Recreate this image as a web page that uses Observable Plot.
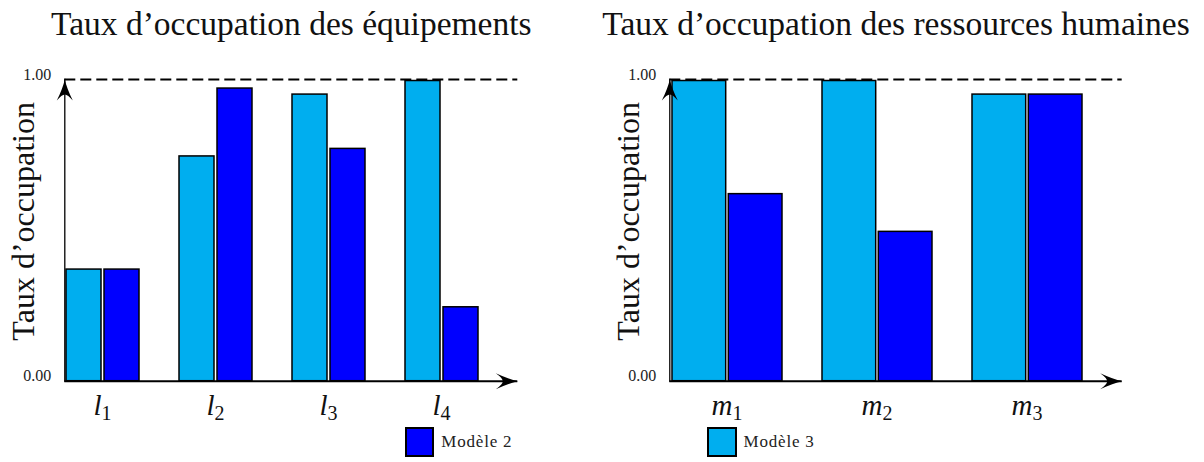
<!DOCTYPE html>
<html><head><meta charset="utf-8">
<script src="https://cdn.jsdelivr.net/npm/d3@7"></script>
<script src="https://cdn.jsdelivr.net/npm/@observablehq/plot@0.6"></script>
<style>
body{margin:0;background:#fff;}
#root{position:relative;width:1204px;height:462px;overflow:hidden;font-family:"Liberation Serif",serif;background:#fff;}
.chart{position:absolute;top:0;}
.legend{position:absolute;display:flex;align-items:center;font-size:17px;letter-spacing:0.8px;color:#222;}
.sw{box-sizing:border-box;width:29.6px;height:29.6px;border:2px solid #000;margin-right:7px;}
</style></head><body><div id="root"></div>
<script>
// ---- data ----
const seriesNames = ["Modèle 3", "Modèle 2"];
const seriesColors = ["#00AEEF", "#0000FF"];
const yTicks = [0, 1];
const yLabel = "Taux d’occupation";

const equipTitle = "Taux d’occupation des équipements";
const equipCategories = ["l1", "l2", "l3", "l4"];
const equipModele3 = [0.37, 0.745, 0.95, 0.995];
const equipModele2 = [0.37, 0.97, 0.77, 0.245];

const rhTitle = "Taux d’occupation des ressources humaines";
const rhCategories = ["m1", "m2", "m3"];
const rhModele3 = [0.995, 0.995, 0.95];
const rhModele2 = [0.62, 0.495, 0.95];

// ---- arrowhead symbols (LaTeX style) ----
const arrowRight = {draw(c) {
  c.moveTo(0, 0);
  c.quadraticCurveTo(-9, -2, -22, -8);
  c.quadraticCurveTo(-15, -3, -15, 0);
  c.quadraticCurveTo(-15, 3, -22, 8);
  c.quadraticCurveTo(-9, 2, 0, 0);
  c.closePath();
}};
const arrowUp = {draw(c) {
  c.moveTo(0, 0);
  c.quadraticCurveTo(-2, 9, -8, 21);
  c.quadraticCurveTo(-3, 15, 0, 15);
  c.quadraticCurveTo(3, 15, 8, 21);
  c.quadraticCurveTo(2, 9, 0, 0);
  c.closePath();
}};

const fmt = d3.format(".2f");

function chart(o) {
  const rows = o.categories.map((c, i) => ({cat: c, m3: o.m3[i], m2: o.m2[i]}));
  const svg = Plot.plot({
    width: o.width, height: 462,
    marginLeft: o.marginLeft, marginRight: o.marginRight, marginTop: 79, marginBottom: 81.3,
    style: {fontFamily: "Liberation Serif", background: "white", overflow: "visible", color: "black"},
    x: {domain: o.categories, range: o.xRange, paddingInner: o.paddingInner, paddingOuter: 0, axis: null},
    y: {domain: [0, 1], range: [380.7, 79], axis: null},
    marks: [
      Plot.barY(rows, {x: "cat", y: "m3", fill: seriesColors[0], stroke: "black", strokeWidth: 1.5, insetRight: o.inset}),
      Plot.barY(rows, {x: "cat", y: "m2", fill: seriesColors[1], stroke: "black", strokeWidth: 1.5, insetLeft: o.inset}),
      Plot.ruleY([1], {strokeDasharray: "11,5", strokeWidth: 2}),
      Plot.frame({anchor: "left", stroke: "black", strokeWidth: 1.3}),
      Plot.ruleY([0], {strokeWidth: 2}),
      Plot.dot([1], {y: d => d, frameAnchor: "left", symbol: arrowUp, fill: "black", stroke: "none"}),
      Plot.dot([0], {y: d => d, frameAnchor: "right", symbol: arrowRight, fill: "black", stroke: "none"}),
      Plot.text(yTicks, {y: d => d, text: d => fmt(d), frameAnchor: "left", textAnchor: "end", lineAnchor: "bottom", dx: -13.6, fontSize: 16, letterSpacing: 1, fill: "#222"}),
      Plot.text(o.categories, {x: d => d, text: d => d[0], frameAnchor: "bottom", lineAnchor: "bottom", textAnchor: "end", dx: o.letterDx, dy: 33.3, fontSize: 29, fontStyle: "italic", fill: "#111"}),
      Plot.text(o.categories, {x: d => d, text: d => d.slice(1), frameAnchor: "bottom", lineAnchor: "bottom", textAnchor: "start", dx: o.subDx, dy: 38.3, fontSize: 20, fill: "#111"}),
      Plot.text([o.title], {text: d => d, frameAnchor: "top", textAnchor: "middle", lineAnchor: "bottom", dy: -45, fontSize: 33.5, fill: "#111"}),
      Plot.text([yLabel], {text: d => d, frameAnchor: "left", textAnchor: "middle", rotate: -90, lineAnchor: "bottom", dx: -31.3, dy: -9, fontSize: 32, fill: "#111"})
    ]
  });
  svg.classList.add("chart");
  svg.style.left = o.left + "px";
  return svg;
}

const root = document.getElementById("root");
root.appendChild(chart({
  categories: equipCategories, m3: equipModele3, m2: equipModele2, title: equipTitle,
  left: 0, width: 602, marginLeft: 64.3, marginRight: 84.7,
  xRange: [65.7, 478.9], paddingInner: 0.353, inset: 38, letterDx: -1.5, subDx: -1.5
}));
root.appendChild(chart({
  categories: rhCategories, m3: rhModele3, m2: rhModele2, title: rhTitle,
  left: 600, width: 604, marginLeft: 69.3, marginRight: 82.3,
  xRange: [70.7, 483.3], paddingInner: 0.2675, inset: 56.3, letterDx: 5, subDx: 5
}));

function legend(left, idx) {
  const d = document.createElement("div");
  d.className = "legend";
  d.style.left = left + "px";
  d.style.top = "427.3px";
  const sw = document.createElement("div");
  sw.className = "sw";
  sw.style.background = seriesColors[idx];
  const t = document.createElement("span");
  t.textContent = seriesNames[idx];
  d.appendChild(sw); d.appendChild(t);
  root.appendChild(d);
}
legend(404.7, 1);
legend(707, 0);
</script></body></html>
